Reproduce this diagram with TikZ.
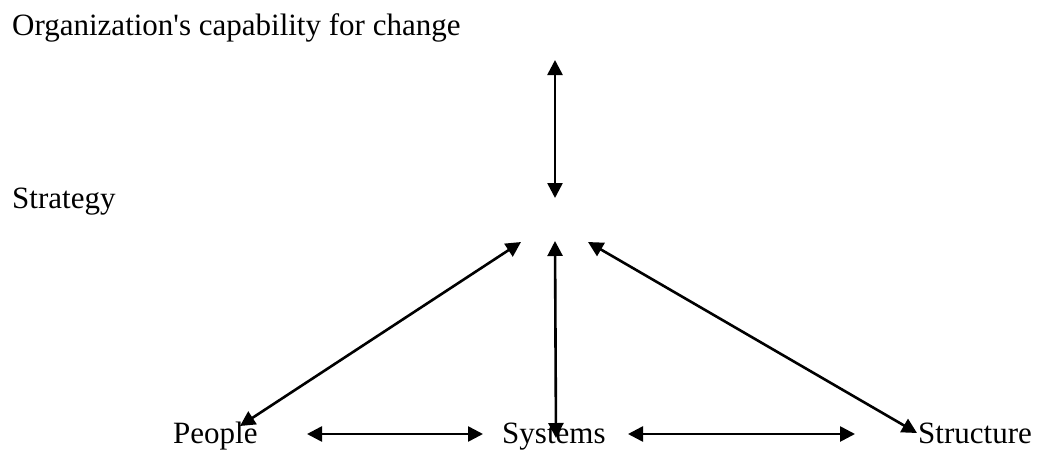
\documentclass[tikz,border=0pt]{standalone}
\usepackage{fontspec}
\setmainfont{Liberation Serif}
\usetikzlibrary{arrows.meta}
\begin{document}
\begin{tikzpicture}[x=1pt, y=-1pt,
  label/.style={inner sep=0pt, anchor=base west, font=\fontsize{31}{37}\selectfont},
  link/.style={line width=2.6pt, {Triangle[length=15pt, width=15pt]}-{Triangle[length=15pt, width=15pt]}}]
  \useasboundingbox (0,0) rectangle (1038,450);

  % text labels
  \node[label] (cap) at (12,35) {Organization\textquotesingle s capability for change};
  \node[label] (strategy) at (12,208) {Strategy};
  \node[label] (people) at (173,443) {People};
  \node[label] (systems) at (502,443) {Systems};
  \node[label] (structure) at (918,443) {Structure};

  % arrow end points
  \coordinate (capA) at (555,60);
  \coordinate (capB) at (555,198);
  \coordinate (hubL) at (521,242);
  \coordinate (hubM) at (555,241);
  \coordinate (hubR) at (588,242);
  \coordinate (peopleTip) at (240,426);
  \coordinate (systemsTip) at (556,438);
  \coordinate (structureTip) at (917,433);
  \coordinate (h1a) at (307,434);
  \coordinate (h1b) at (483,434);
  \coordinate (h2a) at (628,434);
  \coordinate (h2b) at (855,434);

  % connectors
  \draw[link] (capA) -- (capB);
  \draw[link] (peopleTip) -- (hubL);
  \draw[link] (systemsTip) -- (hubM);
  \draw[link] (structureTip) -- (hubR);
  \draw[link] (h1a) -- (h1b);
  \draw[link] (h2a) -- (h2b);
\end{tikzpicture}
\end{document}
